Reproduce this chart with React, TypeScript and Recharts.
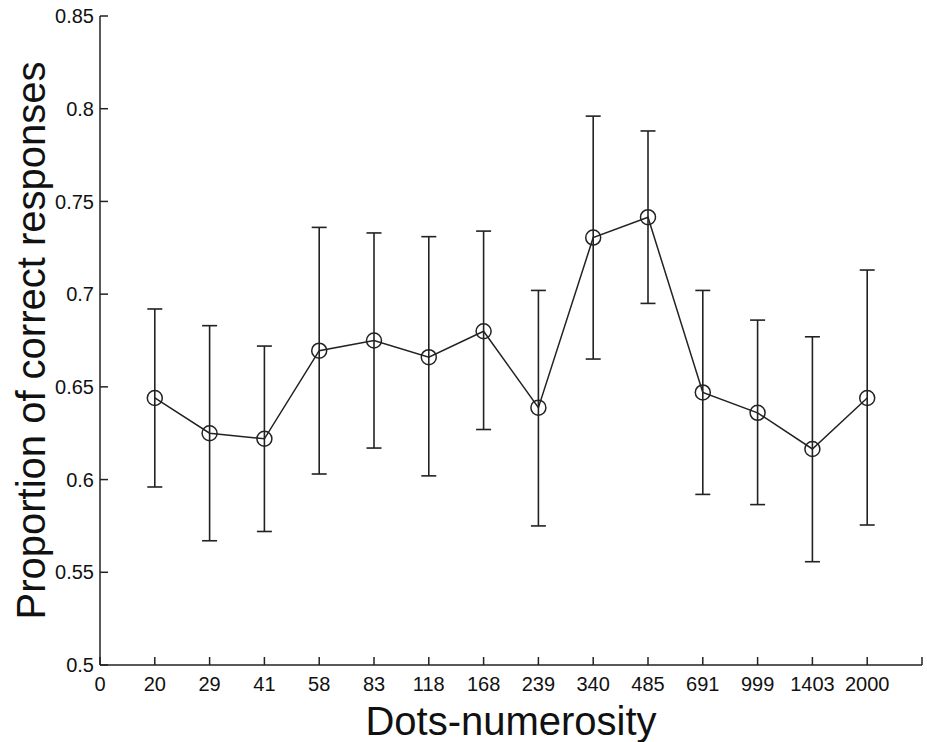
import { LineChart, Line, XAxis, YAxis, ErrorBar } from 'recharts';

const tickLabels = ['0', '20', '29', '41', '58', '83', '118', '168', '239', '340', '485', '691', '999', '1403', '2000', ''];
const numerosity = ['20', '29', '41', '58', '83', '118', '168', '239', '340', '485', '691', '999', '1403', '2000'];
const proportion = [0.644, 0.625, 0.622, 0.6695, 0.675, 0.666, 0.68, 0.6388, 0.7305, 0.7415, 0.647, 0.636, 0.6165, 0.644];
const upperBound = [0.692, 0.683, 0.672, 0.736, 0.733, 0.731, 0.734, 0.702, 0.796, 0.788, 0.702, 0.686, 0.677, 0.713];
const lowerBound = [0.596, 0.567, 0.572, 0.603, 0.617, 0.602, 0.627, 0.575, 0.665, 0.695, 0.592, 0.5865, 0.5557, 0.5755];
const yTicks = [0.5, 0.55, 0.6, 0.65, 0.7, 0.75, 0.8, 0.85];

const data = numerosity.map((label, i) => ({
  pos: i + 1,
  label,
  value: proportion[i],
  err: [proportion[i] - lowerBound[i], upperBound[i] - proportion[i]],
}));

const font = "'Liberation Sans', Arial, Helvetica, sans-serif";
const ink = '#222';

const YTitle = (props: any) => {
  const vb = props.viewBox || {};
  const cx = 45;
  const cy = (vb.y ?? 16) + (vb.height ?? 649) / 2;
  return (
    <text
      x={cx}
      y={cy}
      transform={`rotate(-90 ${cx} ${cy})`}
      textAnchor="middle"
      fontSize={40}
      fontFamily={font}
      fill="#111"
    >
      Proportion of correct responses
    </text>
  );
};

export default function App() {
  return (
    <div style={{ position: 'fixed', left: 0, top: 0, background: '#fff' }}>
      <LineChart
        width={927}
        height={742}
        data={data}
        margin={{ top: 16, right: 5, left: 0, bottom: 0 }}
      >
        <XAxis
          dataKey="pos"
          type="number"
          domain={[0, 15]}
          ticks={tickLabels.map((_, i) => i)}
          tickFormatter={(v: number) => tickLabels[v]}
          interval={0}
          height={77}
          tickSize={-8}
          tickMargin={20}
          axisLine={{ stroke: ink, strokeWidth: 1.5 }}
          tickLine={{ stroke: ink, strokeWidth: 1.5 }}
          tick={{ fill: '#111', fontSize: 20, fontFamily: font }}
          label={{
            value: 'Dots-numerosity',
            position: 'insideBottom',
            offset: 7,
            fontSize: 40,
            fontFamily: font,
            fill: '#111',
          }}
        />
        <YAxis
          type="number"
          domain={[0.5, 0.85]}
          ticks={yTicks}
          interval={0}
          allowDataOverflow
          width={100}
          tickSize={-8}
          tickMargin={14}
          tickFormatter={(v: number) => String(+v.toFixed(2))}
          axisLine={{ stroke: ink, strokeWidth: 1.5 }}
          tickLine={{ stroke: ink, strokeWidth: 1.5 }}
          tick={{ fill: '#111', fontSize: 20, fontFamily: font }}
          label={<YTitle />}
        />
        <Line
          dataKey="value"
          stroke={ink}
          strokeWidth={1.5}
          dot={{ r: 7.5, fill: 'none', stroke: ink, strokeWidth: 1.5 }}
          isAnimationActive={false}
        >
          <ErrorBar dataKey="err" width={7.5} stroke={ink} strokeWidth={1.6} direction="y" />
        </Line>
      </LineChart>
    </div>
  );
}
